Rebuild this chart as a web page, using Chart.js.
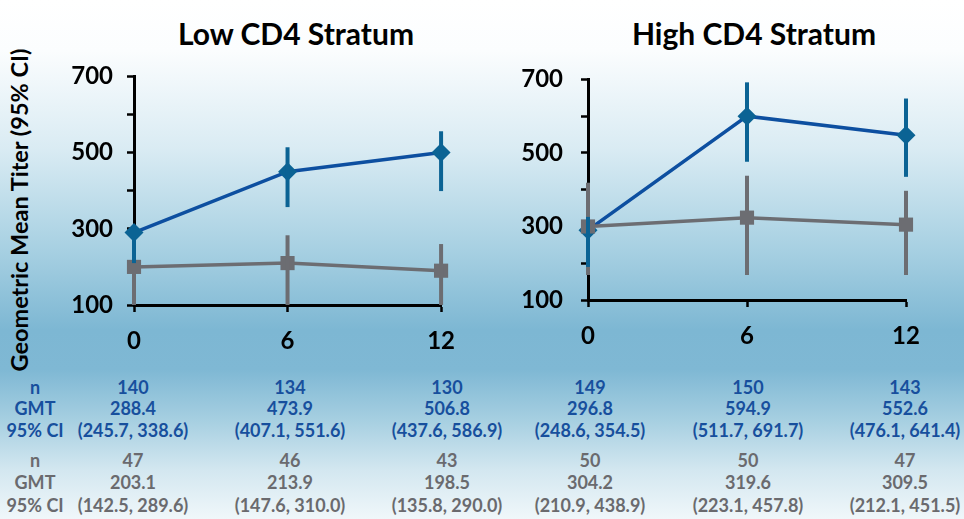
<!DOCTYPE html>
<html>
<head>
<meta charset="utf-8">
<script src="https://cdn.jsdelivr.net/npm/chart.js@4"></script>
<style>
  html, body { margin: 0; padding: 0; }
  body {
    width: 964px; height: 519px; position: relative; overflow: hidden;
    font-family: Lato, "Open Sans", sans-serif; font-weight: bold;
    background: linear-gradient(to bottom, #ffffff 0px, #fbfdfe 50px, #d9ebf3 150px, #a7d0e2 250px,
      #7db7d3 330px, #7fb8d4 370px, #a6cfe1 420px, #d3e7f0 470px, #f0f7fa 519px);
  }
  .title { position: absolute; top: 15px; font-size: 30px; color: #000; transform: translateX(-50%); white-space: nowrap; }
  .ylab { position: absolute; left: 19px; top: 210px; font-size: 23.5px; color: #000; white-space: nowrap;
    transform: translate(-50%, -50%) rotate(-90deg); }
  .box { position: absolute; }
  .box canvas { display: block; }
  .cell { position: absolute; transform: translate(-50%, -50%); font-size: 18px; white-space: nowrap; }
  .vac { color: #174f9d; }
  .ctl { color: #6a6a6e; }
</style>
</head>
<body>
<div class="title" style="left:296px">Low CD4 Stratum</div>
<div class="title" style="left:754px">High CD4 Stratum</div>
<div class="ylab">Geometric Mean Titer (95% CI)</div>
<div class="box" style="left:0;top:48px;width:470px;height:312px"><canvas id="low"></canvas></div>
<div class="box" style="left:480px;top:47px;width:484px;height:313px"><canvas id="high"></canvas></div>
<div id="table"></div>
<script>
const months = [0, 6, 12];

const lowVacc = [290, 450, 500];
const lowVaccLo = [210, 357, 399];
const lowVaccHi = [300, 514, 556];
const lowCtrl = [200, 210, 190];
const lowCtrlLo = [100, 100, 100];
const lowCtrlHi = [210, 283, 260];

const highVacc = [290, 600, 548];
const highVaccLo = [190, 476, 435];
const highVaccHi = [326, 692, 648];
const highCtrl = [300, 324, 305];
const highCtrlLo = [168, 168, 168];
const highCtrlHi = [419, 438, 397];

// table under the charts
const rowLabels = ['n', 'GMT', '95% CI'];
const lowVaccN = ['140', '134', '130'];
const lowVaccGmt = ['288.4', '473.9', '506.8'];
const lowVaccCi = ['(245.7, 338.6)', '(407.1, 551.6)', '(437.6, 586.9)'];
const highVaccN = ['149', '150', '143'];
const highVaccGmt = ['296.8', '594.9', '552.6'];
const highVaccCi = ['(248.6, 354.5)', '(511.7, 691.7)', '(476.1, 641.4)'];
const lowCtrlN = ['47', '46', '43'];
const lowCtrlGmt = ['203.1', '213.9', '198.5'];
const lowCtrlCi = ['(142.5, 289.6)', '(147.6, 310.0)', '(135.8, 290.0)'];
const highCtrlN = ['50', '50', '47'];
const highCtrlGmt = ['304.2', '319.6', '309.5'];
const highCtrlCi = ['(210.9, 438.9)', '(223.1, 457.8)', '(212.1, 451.5)'];

const BLUE_LINE = '#0d4fa0';
const BLUE_MARK = '#0b6394';
const GREY = '#6c6d72';
const FONT = 'Lato';

// whiskers: grey first, then blue on top
const errorBars = {
  id: 'errorBars',
  afterDatasetsDraw(chart) {
    const ctx = chart.ctx;
    const xs = chart.scales.x, ys = chart.scales.y;
    const order = [1, 0];
    ctx.save();
    for (const i of order) {
      const ds = chart.data.datasets[i];
      ctx.strokeStyle = ds.barColor;
      ctx.lineWidth = 4;
      ds.data.forEach((p, k) => {
        const x = xs.getPixelForValue(p.x);
        ctx.beginPath();
        ctx.moveTo(x, ys.getPixelForValue(ds.lo[k]));
        ctx.lineTo(x, ys.getPixelForValue(ds.hi[k]));
        ctx.stroke();
      });
    }
    ctx.restore();
  }
};

function pts(vals) {
  return months.map((m, i) => ({ x: m, y: vals[i] }));
}

function makeChart(id, vacc, vLo, vHi, ctrl, cLo, cHi, geo) {
  new Chart(document.getElementById(id), {
    type: 'line',
    data: {
      datasets: [
        {
          data: pts(vacc), lo: vLo, hi: vHi, barColor: BLUE_MARK,
          borderColor: BLUE_LINE, borderWidth: 3.5,
          pointStyle: 'rectRot', pointRadius: 9.5,
          pointBackgroundColor: BLUE_MARK, pointBorderWidth: 0,
          clip: false, order: 1
        },
        {
          data: pts(ctrl), lo: cLo, hi: cHi, barColor: GREY,
          borderColor: GREY, borderWidth: 3.5,
          pointStyle: 'rect', pointRadius: 10,
          pointBackgroundColor: GREY, pointBorderWidth: 0,
          clip: false, order: 0
        }
      ]
    },
    options: {
      responsive: false,
      animation: false,
      devicePixelRatio: 1,
      layout: { padding: { left: 0, right: geo.right, top: 0, bottom: 0 } },
      plugins: { legend: { display: false }, tooltip: { enabled: false } },
      scales: {
        x: {
          type: 'linear', min: 0, max: 12,
          afterFit: s => { s.height = geo.xh; },
          ticks: { stepSize: 6, color: '#000', padding: 15, font: { family: FONT, size: 24, weight: 'bold' } },
          grid: { drawOnChartArea: false, drawTicks: true, tickLength: 7, tickWidth: 2.5, tickColor: '#000' },
          border: { color: '#000', width: 3 }
        },
        y: {
          min: 100, max: 700,
          afterFit: s => { s.width = geo.yw; },
          ticks: {
            stepSize: 100, color: '#000', padding: geo.ypad,
            font: { family: FONT, size: 24, weight: 'bold' },
            callback: v => ((v - 100) % 200 === 0 ? v : '')
          },
          grid: { drawOnChartArea: false, drawTicks: true, tickLength: 7, tickWidth: 2.5, tickColor: '#000' },
          border: { color: '#000', width: 3 }
        }
      }
    },
    plugins: [errorBars]
  });
}

function sizeCanvas(id, w, h) {
  const c = document.getElementById(id);
  c.width = w; c.height = h;
  c.style.width = w + 'px'; c.style.height = h + 'px';
}

sizeCanvas('low', 470, 312);
sizeCanvas('high', 484, 313);
makeChart('low', lowVacc, lowVaccLo, lowVaccHi, lowCtrl, lowCtrlLo, lowCtrlHi,
  { yw: 134, right: 26, xh: 55, ypad: 14 });
makeChart('high', highVacc, highVaccLo, highVaccHi, highCtrl, highCtrlLo, highCtrlHi,
  { yw: 108, right: 58, xh: 60, ypad: 18 });

// table text
const colX = [133, 290, 447, 590, 748, 905];
const vaccRowsY = [387, 408, 430];
const ctrlRowsY = [460, 482, 505];
const table = document.getElementById('table');
function cell(text, x, y, cls) {
  const d = document.createElement('div');
  d.className = 'cell ' + cls;
  d.textContent = text;
  d.style.left = x + 'px';
  d.style.top = y + 'px';
  table.appendChild(d);
}
function block(rowsY, cls, lowRows, highRows) {
  rowLabels.forEach((lbl, r) => cell(lbl, 35, rowsY[r], cls));
  for (let c = 0; c < 3; c++) {
    lowRows.forEach((row, r) => cell(row[c], colX[c], rowsY[r], cls));
    highRows.forEach((row, r) => cell(row[c], colX[c + 3], rowsY[r], cls));
  }
}
block(vaccRowsY, 'vac', [lowVaccN, lowVaccGmt, lowVaccCi], [highVaccN, highVaccGmt, highVaccCi]);
block(ctrlRowsY, 'ctl', [lowCtrlN, lowCtrlGmt, lowCtrlCi], [highCtrlN, highCtrlGmt, highCtrlCi]);
</script>
</body>
</html>
